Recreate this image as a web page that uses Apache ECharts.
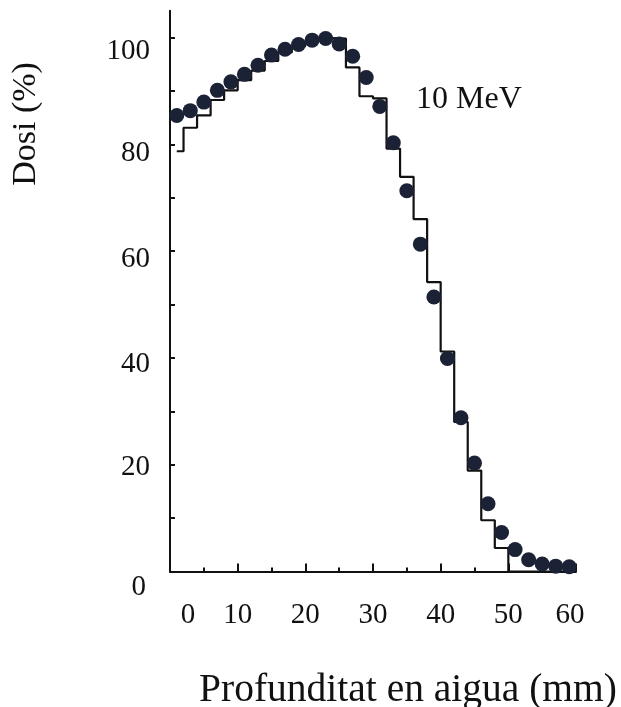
<!DOCTYPE html>
<html>
<head>
<meta charset="utf-8">
<script src="https://cdn.jsdelivr.net/npm/echarts@6/dist/echarts.min.js"></script>
<style>
html,body{margin:0;padding:0;background:#fff;}
#chart{width:621px;height:707px;}
</style>
</head>
<body>
<div id="chart"></div>
<script>
// Measured depth-dose (dots)
var dotDepth = [1, 3, 5, 7, 9, 11, 13, 15, 17, 19, 21, 23, 25, 27, 29, 31, 33, 35, 37, 39, 41, 43, 45, 47, 49, 51, 53, 55, 57, 59];
var dotDose = [85.4, 86.3, 87.9, 90.1, 91.7, 93.1, 94.8, 96.7, 97.8, 98.7, 99.5, 99.8, 98.8, 96.5, 92.5, 87.1, 80.3, 71.3, 61.3, 51.4, 39.9, 28.8, 20.3, 12.7, 7.3, 4.1, 2.2, 1.4, 1.0, 0.9];
// Histogram (step) bin left edges and doses
var stepEdges = [1, 2, 4, 6, 8, 10, 12, 14, 16, 18, 20, 22, 24, 26, 28, 30, 32, 34, 36, 38, 40, 42, 44, 46, 48, 50, 60];
var stepDose = [78.7, 83.1, 85.4, 88.3, 90.1, 92.0, 93.8, 95.6, 97.2, 98.4, 99.3, 99.9, 99.8, 94.4, 89.0, 88.6, 79.2, 73.9, 66.0, 54.2, 41.2, 28.0, 18.9, 9.6, 4.4, 0, 0];
// Axis tick labels
var xTickLabels = [0, 10, 20, 30, 40, 50, 60];
var yTickLabels = [0, 20, 40, 60, 80, 100];
var yTickMarks = [0, 10, 20, 30, 40, 50, 60, 70, 80, 90, 100];
var xTitle = 'Profunditat en aigua (mm)';
var yTitle = 'Dosi (%)';
var energyLabel = '10 MeV';

var FONT = 'Liberation Serif';
var INK = '#111111';

var chart = echarts.init(document.getElementById('chart'), null, {renderer: 'canvas'});

var dotData = dotDepth.map(function (d, i) { return [d, dotDose[i]]; });
var stepData = stepEdges.map(function (d, i) { return [d, stepDose[i]]; });

function lab(pad) { return {fontFamily: FONT, fontSize: 29, color: INK, padding: pad}; }

chart.setOption({
  animation: false,
  backgroundColor: '#ffffff',
  grid: {left: 170, right: 45, top: 10.8, bottom: 135.5, containLabel: false, outerBoundsMode: 'none'},
  xAxis: {
    type: 'value',
    min: 0, max: 60, interval: 10,
    name: xTitle,
    nameLocation: 'middle',
    nameGap: 99,
    nameTextStyle: {fontFamily: FONT, fontSize: 39.5, color: INK, padding: [0, 0, 0, 70]},
    axisLine: {show: true, onZero: false, lineStyle: {color: INK, width: 2}},
    axisTick: {show: true, inside: true, length: 8, lineStyle: {color: INK, width: 2}},
    minorTick: {show: true, splitNumber: 2, length: 4, lineStyle: {color: INK, width: 2}},
    splitLine: {show: false},
    axisLabel: {
      margin: 29,
      fontFamily: FONT, fontSize: 29, color: INK,
      customValues: xTickLabels,
      formatter: function (v) {
        if (v === 0) return '{z|' + v + '}';
        if (v === 60) return '{e|' + v + '}';
        return '{n|' + v + '}';
      },
      rich: {
        z: lab([0, 0, 0, 36]),
        e: lab([0, 12, 0, 0]),
        n: lab([0, 0, 0, 0])
      }
    }
  },
  yAxis: {
    type: 'value',
    min: 0, max: 105, interval: 10,
    axisLine: {show: true, onZero: false, lineStyle: {color: INK, width: 2}},
    axisTick: {show: true, inside: true, length: 5, lineStyle: {color: INK, width: 2}, customValues: yTickMarks},
    splitLine: {show: false},
    axisLabel: {
      margin: 20,
      fontFamily: FONT, fontSize: 29, color: INK,
      customValues: yTickLabels,
      formatter: function (v) {
        return '{y' + v + '|' + v + '}';
      },
      rich: {
        y0: lab([32, 4, 0, 0]),
        y20: lab([6, 0, 0, 0]),
        y40: lab([12, 0, 0, 0]),
        y60: lab([16, 0, 0, 0]),
        y80: lab([18, 0, 0, 0]),
        y100: lab([28, 0, 0, 0])
      }
    }
  },
  graphic: [
    {
      type: 'text',
      x: 26, y: 124,
      rotation: Math.PI / 2,
      style: {text: yTitle, fontFamily: FONT, fontSize: 34, fill: INK, align: 'center', verticalAlign: 'middle'}
    },
    {
      type: 'text',
      x: 416, y: 100,
      style: {text: energyLabel, fontFamily: FONT, fontSize: 32, fill: INK, align: 'left', verticalAlign: 'middle'}
    }
  ],
  series: [
    {
      type: 'line',
      step: 'end',
      data: stepData,
      symbol: 'none',
      lineStyle: {color: INK, width: 2.2},
      z: 2
    },
    {
      type: 'scatter',
      data: dotData,
      symbol: 'circle',
      symbolSize: 15,
      itemStyle: {color: '#1b2236', opacity: 1},
      z: 3
    }
  ]
});
</script>
</body>
</html>
